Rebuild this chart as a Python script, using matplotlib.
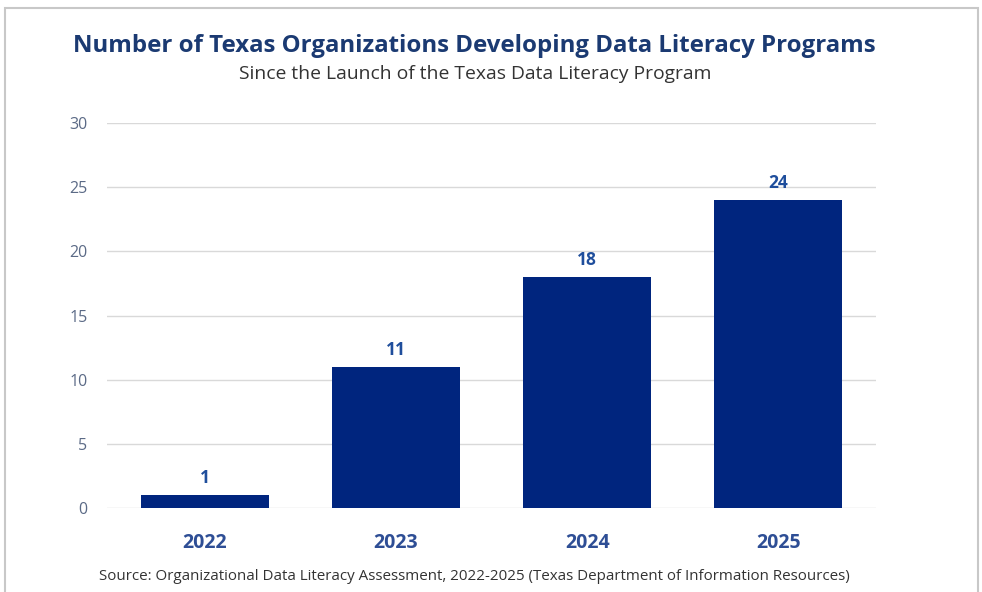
import matplotlib.pyplot as plt
from matplotlib.patches import Rectangle

# datos
years = ['2022', '2023', '2024', '2025']
orgs = [1, 11, 18, 24]
yticks = [0, 5, 10, 15, 20, 25, 30]

plt.rcParams['font.family'] = ['Open Sans', 'DejaVu Sans']

fig = plt.figure(figsize=(9.82, 5.92), dpi=100)
ax = fig.add_axes([0.109, 0.1419, 0.783, 0.6503])

bars = ax.bar(range(len(years)), orgs, width=0.67, color='#00257E', zorder=3)
for i, v in enumerate(orgs):
    ax.text(i, v + 0.6, str(v), ha='center', va='bottom', fontsize=12.5,
            fontweight='bold', color='#1F4E9C')

ax.set_xlim(-0.51, 3.51)
ax.set_ylim(0, 30)
ax.set_yticks(yticks)
ax.set_xticks(range(len(years)))
ax.set_xticklabels(years, fontsize=14, fontweight='bold', color='#2E4E95')
ax.tick_params(axis='y', length=0, labelsize=11.5, labelcolor='#5B6A86', pad=14)
ax.tick_params(axis='x', length=0, pad=18)
ax.grid(axis='y', color='#D9D9D9', linewidth=1, zorder=0)
for s in ax.spines.values():
    s.set_visible(False)

fig.text(0.4835, 0.922, 'Number of Texas Organizations Developing Data Literacy Programs',
         ha='center', va='center', fontsize=17.3, fontweight='bold', color='#1B3A72')
fig.text(0.4835, 0.875, 'Since the Launch of the Texas Data Literacy Program',
         ha='center', va='center', fontsize=13.9, color='#333333')
fig.text(0.4835, 0.027,
         'Source: Organizational Data Literacy Assessment, 2022-2025 (Texas Department of Information Resources)',
         ha='center', va='center', fontsize=10.9, color='#333333')

# borde
fig.patches.append(Rectangle((5 / 982, -0.05), 973 / 982, 1.05 - 8 / 592,
                             transform=fig.transFigure, fill=False,
                             edgecolor='#C8C8C8', linewidth=1.5))

fig.savefig('out.png', dpi=100)
